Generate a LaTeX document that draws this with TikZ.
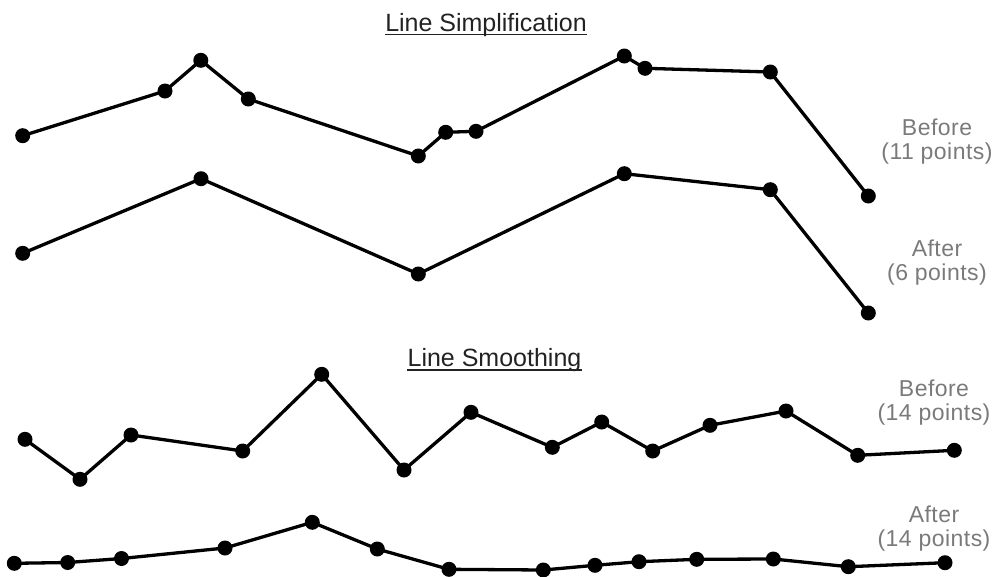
\documentclass[tikz,border=0pt]{standalone}
\usepackage{fontspec}
\setmainfont{Liberation Sans}
\usetikzlibrary{backgrounds}
\definecolor{labelgray}{HTML}{7A7A7A}
\definecolor{titleink}{HTML}{222222}
\tikzset{
  dot/.style={circle, fill=black, inner sep=0pt, minimum size=15pt},
  polyline/.style={line width=3.3pt, line join=round, line cap=round, black},
  titletext/.style={font=\fontsize{25}{30}\selectfont, text=titleink, inner sep=0pt, anchor=base},
  underl/.style={line width=1.6pt, titleink},
  sidelabel/.style={font=\fontsize{23}{23.5}\selectfont\addfontfeature{LetterSpace=2}, text=labelgray, align=center, inner sep=0pt, anchor=north}
}
\begin{document}
\begin{tikzpicture}[x=1pt, y=-1pt]
\useasboundingbox (0,0) rectangle (995,576);

% Titles
\node[titletext] (t1) at (486,31) {Line Simplification};
\draw[underl] ([yshift=-3.6pt]t1.base west) -- ([yshift=-3.6pt]t1.base east);
\node[titletext] (t2) at (494.5,366.5) {Line Smoothing};
\draw[underl] ([yshift=-3.6pt]t2.base west) -- ([yshift=-3.6pt]t2.base east);

% Side labels
\node[sidelabel] (l1) at (937,119) {Before\\(11 points)};
\node[sidelabel] (l2) at (937,240) {After\\(6 points)};
\node[sidelabel] (l3) at (934,380) {Before\\(14 points)};
\node[sidelabel] (l4) at (934,506) {After\\(14 points)};

% Line A: simplification before (11 points)
\foreach \n/\x/\y in {1/22.7/135.7, 2/165/91, 3/200.8/60.3, 4/248.3/99, 5/418.3/156,
  6/445.7/132.3, 7/476/131.3, 8/624.3/56, 9/645/68.3, 10/770.3/72, 11/868.3/196}
  \node[dot] (a\n) at (\x,\y) {};
% Line B: simplification after (6 points)
\foreach \n/\x/\y in {1/22.7/253.3, 2/201/178.7, 3/418.3/274, 4/624.3/173.7, 5/770.3/189.7, 6/868.3/313}
  \node[dot] (b\n) at (\x,\y) {};
% Line C: smoothing before (14 points)
\foreach \n/\x/\y in {1/25/439.3, 2/80/479.3, 3/131/435, 4/242.7/451, 5/321.7/374.3, 6/404/470,
  7/471/412.3, 8/552.3/447.3, 9/601.7/422, 10/652.7/451, 11/710/425.3, 12/786/411,
  13/857.7/455.3, 14/954.3/450.3}
  \node[dot] (c\n) at (\x,\y) {};
% Line D: smoothing after (14 points)
\foreach \n/\x/\y in {1/14.3/563.3, 2/67.7/562.5, 3/121.5/558.5, 4/225/548, 5/312.3/522.3, 6/377.3/549,
  7/449/569.3, 8/543.3/570, 9/595/565.3, 10/639/561.7, 11/696.7/559.3, 12/773.3/559,
  13/848.3/566.7, 14/945/562.7}
  \node[dot] (d\n) at (\x,\y) {};

\begin{scope}[on background layer]
  \draw[polyline] (a1.center) -- (a2.center) -- (a3.center) -- (a4.center) -- (a5.center)
    -- (a6.center) -- (a7.center) -- (a8.center) -- (a9.center) -- (a10.center) -- (a11.center);
  \draw[polyline] (b1.center) -- (b2.center) -- (b3.center) -- (b4.center) -- (b5.center) -- (b6.center);
  \draw[polyline] (c1.center) -- (c2.center) -- (c3.center) -- (c4.center) -- (c5.center)
    -- (c6.center) -- (c7.center) -- (c8.center) -- (c9.center) -- (c10.center)
    -- (c11.center) -- (c12.center) -- (c13.center) -- (c14.center);
  \draw[polyline] (d1.center) -- (d2.center) -- (d3.center) -- (d4.center) -- (d5.center)
    -- (d6.center) -- (d7.center) -- (d8.center) -- (d9.center) -- (d10.center)
    -- (d11.center) -- (d12.center) -- (d13.center) -- (d14.center);
\end{scope}
\end{tikzpicture}
\end{document}
